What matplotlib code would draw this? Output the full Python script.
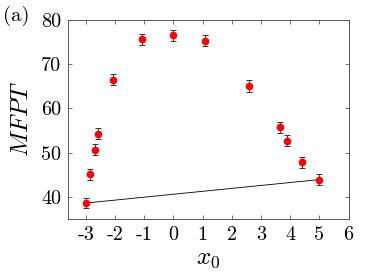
import numpy as np
import matplotlib
matplotlib.use('Agg')
import matplotlib.pyplot as plt

plt.rcParams['font.family'] = 'cmr10'
plt.rcParams['mathtext.fontset'] = 'cm'
plt.rcParams['axes.unicode_minus'] = False

# data
x0 = [-3.0, -2.86, -2.70, -2.59, -2.09, -1.09, 0.0, 1.07, 2.59, 3.64, 3.90, 4.39, 5.0]
mfpt = [38.6, 45.1, 50.7, 54.3, 66.5, 75.6, 76.5, 75.3, 65.1, 55.7, 52.7, 47.8, 43.9]
err = [1.2, 1.3, 1.3, 1.3, 1.3, 1.3, 1.3, 1.3, 1.3, 1.2, 1.3, 1.2, 1.2]
line_x = [-3.0, 5.0]
line_y = [38.6, 43.9]
xticks = [-3, -2, -1, 0, 1, 2, 3, 4, 5, 6]
yticks = [40, 50, 60, 70, 80]

fig = plt.figure(figsize=(3.74, 2.80), dpi=100)
ax = fig.add_axes([0.183, 0.218, 0.749, 0.711])

ax.plot(line_x, line_y, color='black', lw=0.6)
ax.errorbar(x0, mfpt, yerr=err, fmt='o', color='red', ms=4.5, mec='red',
            ecolor='#333333', elinewidth=0.7, capsize=2.5, capthick=0.7)

ax.set_xlim(-3.6, 6)
ax.set_ylim(35, 80)
ax.set_xticks(xticks)
ax.set_xticklabels([str(t) for t in xticks])
ax.set_yticks(yticks)
ax.set_yticklabels([str(t) for t in yticks])
ax.tick_params(direction='in', top=True, right=True, labelsize=14.5, length=3,
               width=0.6, color='#555555', pad=5)
for s in ax.spines.values():
    s.set_color('#555555')
    s.set_linewidth(0.7)

ax.set_xlabel('$x_0$', fontsize=18, labelpad=3)
ax.set_ylabel('$MFPT$', fontsize=18, labelpad=6)
fig.text(0.008, 0.925, '(a)', fontsize=15)

fig.savefig('out.png', dpi=100)
